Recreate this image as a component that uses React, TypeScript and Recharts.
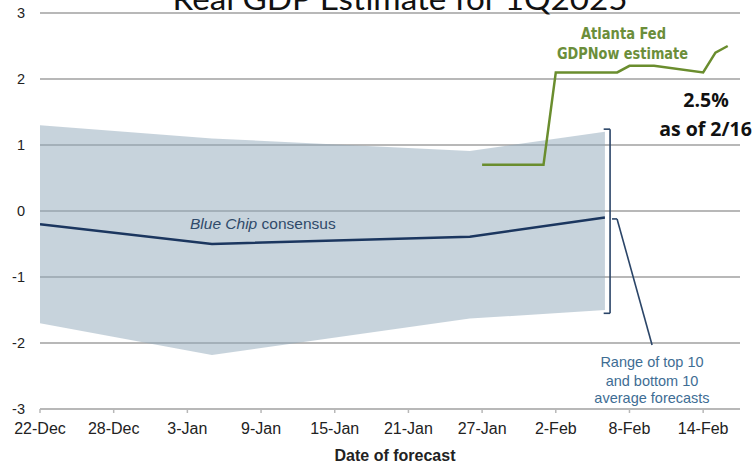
import React from 'react';
import { ComposedChart, Area, Line, XAxis, YAxis, CartesianGrid, ReferenceLine } from 'recharts';

// x values are days since 22-Dec (forecast date)
const DAY_TICKS = [0, 6, 12, 18, 24, 30, 36, 42, 48, 54];
const TICK_LABELS = ['22-Dec', '28-Dec', '3-Jan', '9-Jan', '15-Jan', '21-Jan', '27-Jan', '2-Feb', '8-Feb', '14-Feb'];
const Y_TICKS = [-3, -2, -1, 0, 1, 2, 3];

const BAND_DAYS = [0, 14, 35, 46];
const BAND_LOW = [-1.7, -2.18, -1.63, -1.5];
const BAND_HIGH = [1.3, 1.1, 0.91, 1.2];

const BLUE_CHIP_DAYS = [0, 14, 35, 46];
const BLUE_CHIP = [-0.2, -0.5, -0.39, -0.1];

const GDPNOW_DAYS = [36, 41, 42, 47, 48, 50, 54, 55, 56];
const GDPNOW = [0.7, 0.7, 2.1, 2.1, 2.2, 2.2, 2.1, 2.4, 2.5];

const bandData = BAND_DAYS.map((d, i) => ({ day: d, range: [BAND_LOW[i], BAND_HIGH[i]] }));
const blueData = BLUE_CHIP_DAYS.map((d, i) => ({ day: d, v: BLUE_CHIP[i] }));
const nowData = GDPNOW_DAYS.map((d, i) => ({ day: d, v: GDPNOW[i] }));

const SANS = "'Liberation Sans', Arial, sans-serif";
const NARROW = "'Liberation Sans Narrow', 'DejaVu Sans Condensed', sans-serif";
const BRACKET = '#2b4568';

export default function App() {
  return (
    <div style={{ position: 'absolute', left: 0, top: 0, width: 756, height: 464, background: '#fff' }}>
      <ComposedChart width={756} height={464} margin={{ top: 13, right: 16, bottom: 25, left: 0 }}>
        <CartesianGrid vertical={false} stroke="#b8b8b8" strokeWidth={2} />
        <XAxis
          type="number"
          dataKey="day"
          domain={[0, 57]}
          ticks={DAY_TICKS}
          interval={0}
          allowDataOverflow
          tickFormatter={(v: number) => TICK_LABELS[DAY_TICKS.indexOf(v)] ?? ''}
          height={30}
          axisLine={{ stroke: '#b8b8b8', strokeWidth: 2 }}
          tickLine={{ stroke: '#b8b8b8', strokeWidth: 1.5 }}
          tickSize={4}
          tickMargin={10}
          tick={{ fill: '#222', fontSize: 16, fontFamily: SANS }}
        />
        <YAxis
          type="number"
          domain={[-3, 3]}
          ticks={Y_TICKS}
          interval={0}
          width={40}
          axisLine={false}
          tickLine={false}
          tickSize={0}
          tickMargin={15}
          tick={{ fill: '#222', fontSize: 14.5, fontFamily: SANS }}
        />
        <Area
          data={bandData}
          dataKey="range"
          type="linear"
          stroke="none"
          fill="#8fa8ba"
          fillOpacity={0.5}
          isAnimationActive={false}
        />
        <Line data={blueData} dataKey="v" type="linear" stroke="#1b365f" strokeWidth={2.5} dot={false} isAnimationActive={false} />
        <Line data={nowData} dataKey="v" type="linear" stroke="#6a8d2e" strokeWidth={2.5} dot={false} isAnimationActive={false} />
        {/* bracket around the band's last value */}
        <ReferenceLine segment={[{ x: 46.42, y: 1.24 }, { x: 46.42, y: -1.55 }]} stroke={BRACKET} strokeWidth={1.6} />
        <ReferenceLine segment={[{ x: 45.9, y: 1.24 }, { x: 46.42, y: 1.24 }]} stroke={BRACKET} strokeWidth={1.6} />
        <ReferenceLine segment={[{ x: 45.9, y: -1.55 }, { x: 46.42, y: -1.55 }]} stroke={BRACKET} strokeWidth={1.6} />
        {/* leader line */}
        <ReferenceLine segment={[{ x: 46.58, y: -0.12 }, { x: 46.99, y: -0.12 }]} stroke={BRACKET} strokeWidth={1.6} />
        <ReferenceLine segment={[{ x: 46.99, y: -0.12 }, { x: 49.84, y: -2.03 }]} stroke={BRACKET} strokeWidth={1.6} />
      </ComposedChart>
      <svg width={756} height={464} style={{ position: 'absolute', left: 0, top: 0, pointerEvents: 'none' }}>
        <text x={400} y={10} textAnchor="middle" fontSize={31} textLength={455} lengthAdjust="spacingAndGlyphs" fontFamily="Lato, 'Open Sans', sans-serif" fill="#111">
          Real GDP Estimate for 1Q2025
        </text>
        <text x={581} y={39} fontSize={16} fontWeight="bold" textLength={85} lengthAdjust="spacingAndGlyphs" fontFamily={NARROW} fill="#6b8e3a">
          Atlanta Fed
        </text>
        <text x={557} y={59} fontSize={16} fontWeight="bold" textLength={131} lengthAdjust="spacingAndGlyphs" fontFamily={NARROW} fill="#6b8e3a">
          GDPNow estimate
        </text>
        <text x={706} y={107} textAnchor="middle" fontSize={19.5} fontWeight="bold" fontFamily="'Open Sans', sans-serif" fill="#111">
          2.5%
        </text>
        <text x={705.5} y={136} textAnchor="middle" fontSize={19.5} fontWeight="bold" fontFamily="'Open Sans', sans-serif" fill="#111">
          as of 2/16
        </text>
        <text x={190} y={229} fontSize={15.5} fontFamily={SANS} fill="#2f4a6a">
          <tspan fontStyle="italic">Blue Chip</tspan> consensus
        </text>
        <text x={652} y={367} textAnchor="middle" fontSize={14.5} fontFamily={SANS} fill="#3e6d94">
          Range of top 10
        </text>
        <text x={652} y={386} textAnchor="middle" fontSize={14.5} fontFamily={SANS} fill="#3e6d94">
          and bottom 10
        </text>
        <text x={652} y={403} textAnchor="middle" fontSize={14.5} fontFamily={SANS} fill="#3e6d94">
          average forecasts
        </text>
        <text x={395} y={461} textAnchor="middle" fontSize={16} fontWeight="bold" fontFamily={SANS} fill="#222">
          Date of forecast
        </text>
      </svg>
    </div>
  );
}
